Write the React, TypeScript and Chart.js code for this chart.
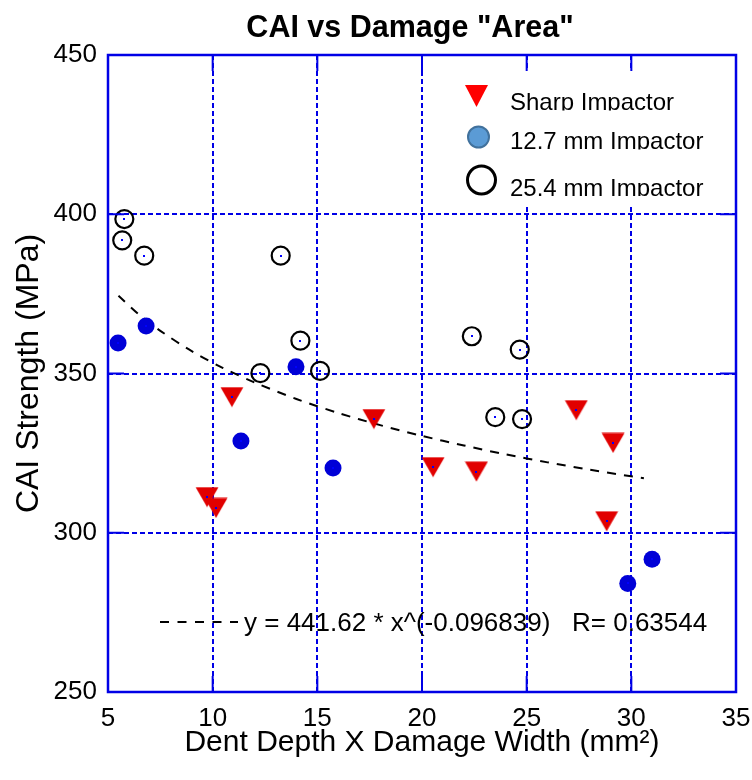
import React, { useEffect, useRef } from "react";
import { Chart, registerables } from "chart.js";

Chart.register(...registerables);

// ---- data ----
const sharpX = [9.73, 10.16, 10.92, 17.7, 20.53, 22.6, 27.37, 29.13, 28.82];
const sharpY = [311.2, 307.8, 342.6, 335.7, 320.6, 319.2, 338.5, 328.2, 303.6];

const mm127X = [5.48, 6.82, 11.35, 13.98, 15.75, 29.83, 30.99];
const mm127Y = [359.6, 364.9, 328.8, 352.1, 320.3, 284.1, 291.7];

const mm254X = [5.78, 5.68, 6.73, 13.25, 14.19, 12.28, 15.13, 22.38, 24.67, 23.5, 24.78];
const mm254Y = [398.5, 391.8, 387.0, 387.0, 360.3, 350.1, 350.8, 361.7, 357.5, 336.3, 335.7];

const fitX = [5.5, 6.5, 7.5, 9, 10.5, 12, 14, 16, 18, 20, 22, 24, 26, 28, 30.6];
const fitY = [374.4, 368.4, 363.4, 357.0, 351.7, 347.2, 342.0, 337.6, 333.8, 330.4, 327.4, 324.6, 322.1, 319.8, 317.1];

const xTicks = [5, 10, 15, 20, 25, 30, 35];
const yTicks = [250, 300, 350, 400, 450];

const seriesLabels = ["Sharp Impactor", "12.7 mm Impactor", "25.4 mm Impactor"];
const titleText = 'CAI vs Damage "Area"';
const xTitle = "Dent Depth X Damage Width (mm\u00B2)";
const yTitle = "CAI Strength (MPa)";
const equationText = "y = 441.62 * x^(-0.096839)   R= 0.63544";

const FONT = "'Liberation Sans', Arial, Helvetica, sans-serif";
const BLUE = "rgb(0,0,230)";
const RED = "rgb(225,0,0)";
const DOT_BLUE = "rgb(0,0,215)";

function makeTriangle(): HTMLCanvasElement {
  const c = document.createElement("canvas");
  c.width = 24;
  c.height = 21;
  const g = c.getContext("2d")!;
  g.fillStyle = RED;
  g.beginPath();
  g.moveTo(0.5, 0.5);
  g.lineTo(23.5, 0.5);
  g.lineTo(12, 20.5);
  g.closePath();
  g.fill();
  return c;
}

const decorPlugin = {
  id: "decor",
  beforeDatasetsDraw(chart: any) {
    const { ctx, chartArea: a } = chart;
    ctx.save();
    ctx.fillStyle = "#ffffff";
    ctx.fillRect(a.right - 291, a.top + 16, 289, 133);
    ctx.restore();
  },
  afterDatasetsDraw(chart: any) {
    const ctx = chart.ctx;
    ctx.save();
    ctx.fillStyle = "rgb(0,0,255)";
    [0, 1, 2].forEach((i) => {
      chart.getDatasetMeta(i).data.forEach((el: any) => {
        ctx.fillRect(Math.round(el.x) - 1, Math.round(el.y) - 1, 2, 2);
      });
    });
    ctx.restore();
  },
  afterDraw(chart: any) {
    const { ctx, chartArea: a, scales } = chart;
    const xs = scales.x;
    const ys = scales.y;
    ctx.save();

    // inner tick marks
    ctx.strokeStyle = BLUE;
    ctx.lineWidth = 2;
    ctx.setLineDash([]);
    const seg = (x1: number, y1: number, x2: number, y2: number) => {
      ctx.beginPath();
      ctx.moveTo(x1, y1);
      ctx.lineTo(x2, y2);
      ctx.stroke();
    };
    xTicks.forEach((v) => {
      const px = xs.getPixelForValue(v);
      seg(px, a.bottom, px, a.bottom - 16);
      seg(px, a.top, px, a.top + 16);
    });
    yTicks.forEach((v) => {
      const py = ys.getPixelForValue(v);
      seg(a.left, py, a.left + 16, py);
      seg(a.right, py, a.right - 16, py);
    });

    // frame
    ctx.lineWidth = 2.5;
    ctx.strokeRect(a.left, a.top, a.right - a.left, a.bottom - a.top);

    // title
    ctx.fillStyle = "#000";
    ctx.font = `bold 30.5px ${FONT}`;
    ctx.textAlign = "center";
    ctx.textBaseline = "alphabetic";
    ctx.fillText(titleText, 410, 36.5);

    // legend markers
    const lx = a.right;
    const ly = a.top;
    ctx.fillStyle = "#ff0000";
    ctx.beginPath();
    ctx.moveTo(lx - 271, ly + 30);
    ctx.lineTo(lx - 248, ly + 30);
    ctx.lineTo(lx - 259.5, ly + 52);
    ctx.closePath();
    ctx.fill();

    ctx.beginPath();
    ctx.arc(lx - 257.5, ly + 82, 10.5, 0, Math.PI * 2);
    ctx.fillStyle = "#5b9bd5";
    ctx.fill();
    ctx.lineWidth = 2;
    ctx.strokeStyle = "#41719c";
    ctx.stroke();

    ctx.beginPath();
    ctx.arc(lx - 254.5, ly + 125, 14, 0, Math.PI * 2);
    ctx.lineWidth = 3;
    ctx.strokeStyle = "#000";
    ctx.stroke();

    // legend texts (clipped at the baseline, as in the reference)
    ctx.font = `24px ${FONT}`;
    ctx.textAlign = "left";
    ctx.fillStyle = "#000";
    const baselines = [ly + 55, ly + 94, ly + 140.5];
    seriesLabels.forEach((t, i) => {
      ctx.save();
      ctx.beginPath();
      ctx.rect(lx - 230, baselines[i] - 30, 228, 30.5);
      ctx.clip();
      ctx.fillText(t, lx - 226, baselines[i]);
      ctx.restore();
    });

    // equation
    ctx.strokeStyle = "#000";
    ctx.lineWidth = 2;
    ctx.setLineDash([9, 8.5]);
    seg(160, 622, 238, 622);
    ctx.setLineDash([]);
    ctx.font = `26px ${FONT}`;
    ctx.fillStyle = "#000";
    ctx.textAlign = "left";
    ctx.fillText(equationText, 244, 631);

    ctx.restore();
  },
};

export default function App() {
  const ref = useRef<HTMLCanvasElement | null>(null);

  useEffect(() => {
    document.body.style.margin = "0";
    const canvas = ref.current!;
    const tri = makeTriangle();
    const pts = (xs: number[], ys: number[]) => xs.map((x, i) => ({ x, y: ys[i] }));

    const chart = new Chart(canvas, {
      type: "scatter",
      data: {
        datasets: [
          {
            label: seriesLabels[0],
            data: pts(sharpX, sharpY),
            pointStyle: tri as any,
            pointRadius: 12,
            backgroundColor: RED,
            borderColor: RED,
          },
          {
            label: seriesLabels[1],
            data: pts(mm127X, mm127Y),
            pointStyle: "circle",
            pointRadius: 8.5,
            backgroundColor: DOT_BLUE,
            borderColor: DOT_BLUE,
            borderWidth: 0,
          },
          {
            label: seriesLabels[2],
            data: pts(mm254X, mm254Y),
            pointStyle: "circle",
            pointRadius: 9,
            backgroundColor: "rgba(255,255,255,0)",
            borderColor: "#000",
            borderWidth: 2.2,
          },
          {
            label: "fit",
            data: pts(fitX, fitY),
            showLine: true,
            pointRadius: 0,
            borderColor: "#000",
            borderWidth: 2,
            borderDash: [9, 8],
            fill: false,
            tension: 0.3,
          } as any,
        ],
      },
      options: {
        animation: false,
        responsive: false,
        devicePixelRatio: 1,
        events: [],
        layout: { padding: { top: 55, right: 16, left: 0, bottom: 0 } },
        plugins: {
          legend: { display: false },
          title: { display: false },
          tooltip: { enabled: false },
        },
        scales: {
          x: {
            type: "linear",
            min: 5,
            max: 35,
            afterFit: (s: any) => {
              s.height = 88;
              s.paddingLeft = 0;
              s.paddingRight = 0;
            },
            afterBuildTicks: (s: any) => {
              s.ticks = xTicks.map((v) => ({ value: v }));
            },
            ticks: { padding: 11, color: "#000", font: { family: FONT, size: 26 }, maxRotation: 0, autoSkip: false },
            grid: { color: BLUE, lineWidth: 2, drawTicks: false },
            border: { display: false, dash: [5, 3] },
            title: {
              display: true,
              text: xTitle,
              color: "#000",
              font: { family: FONT, size: 30 },
              padding: { top: 0, bottom: 19 },
            },
          },
          y: {
            type: "linear",
            min: 250,
            max: 450,
            afterFit: (s: any) => {
              s.width = 108;
              s.paddingTop = 0;
              s.paddingBottom = 0;
            },
            afterBuildTicks: (s: any) => {
              s.ticks = yTicks.map((v) => ({ value: v }));
            },
            ticks: { padding: 11, color: "#000", font: { family: FONT, size: 26 }, autoSkip: false },
            grid: { color: BLUE, lineWidth: 2, drawTicks: false },
            border: { display: false, dash: [5, 3] },
            title: {
              display: true,
              text: yTitle,
              color: "#000",
              font: { family: FONT, size: 32 },
              padding: { top: 10, bottom: 0 },
            },
          },
        },
      } as any,
      plugins: [decorPlugin],
    });

    return () => chart.destroy();
  }, []);

  return (
    <div style={{ width: 752, height: 780 }}>
      <canvas ref={ref} width={752} height={780} style={{ display: "block" }} />
    </div>
  );
}
